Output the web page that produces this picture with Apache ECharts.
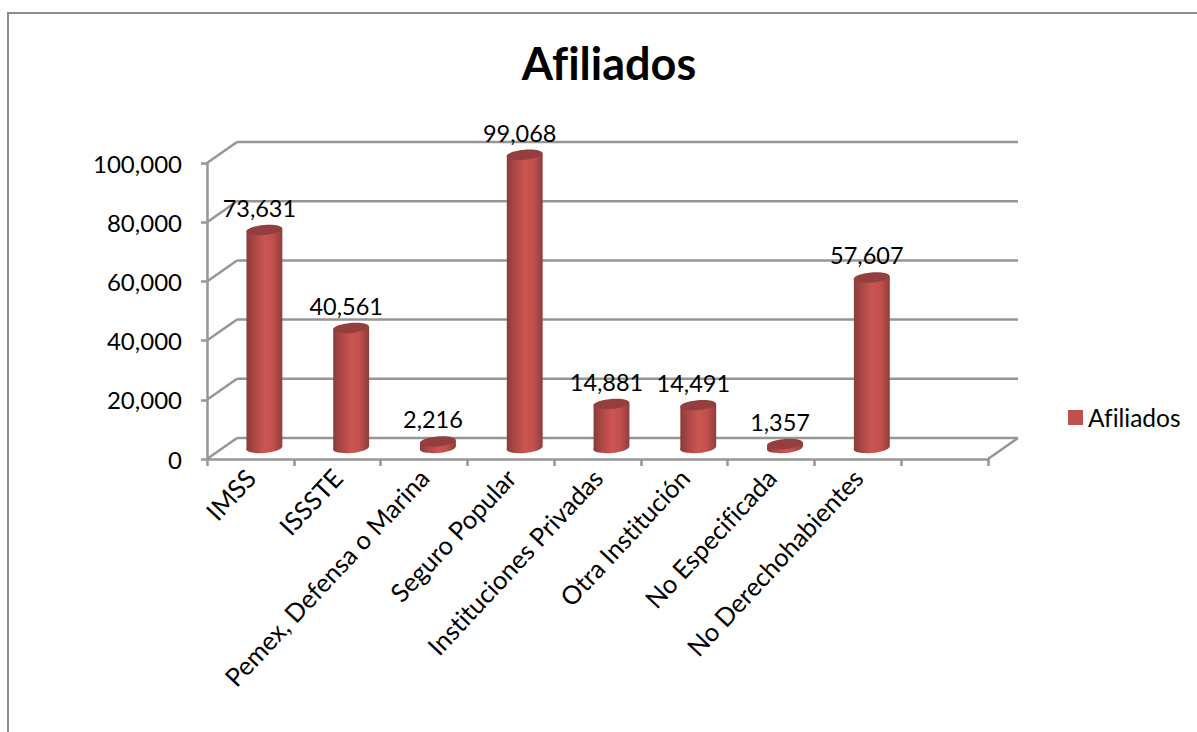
<!DOCTYPE html>
<html><head><meta charset="utf-8">
<style>html,body{margin:0;padding:0;background:#fff}#c{width:1197px;height:732px;font-variant-ligatures:none}#c text{font-variant-ligatures:none}</style>
<script src="https://cdn.jsdelivr.net/npm/echarts@6/dist/echarts.min.js"></script>
</head><body><div id="c"></div>
<script>
const categories = ['IMSS','ISSSTE','Pemex, Defensa o Marina','Seguro Popular','Instituciones Privadas','Otra Institución','No Especificada','No Derechohabientes',''];
const afiliados = [73631,40561,2216,99068,14881,14491,1357,57607];
const yTicks = [0,20000,40000,60000,80000,100000];
const seriesName = 'Afiliados';
const titleText = 'Afiliados';
const FONT = 'Lato, Carlito, sans-serif';
const GRAY = '#969696';
const DX = 30, DY = -21;          // wall depth
const CX = 14, CY = -11;          // cylinder offset into depth
const RX = 18, RY = 5, TILT = 5 * Math.PI / 180;  // cylinder ellipse

const fmt = v => v.toString().replace(/\B(?=(\d{3})+$)/g, ',');
const chart = echarts.init(document.getElementById('c'), null, {renderer:'svg'});

function renderWall(params, api){
  const cs = params.coordSys;
  const y = api.coord([0, api.value(1)])[1];
  const l = cs.x, r = cs.x + cs.width;
  const style = {stroke:GRAY, lineWidth:2.5, fill:null};
  const kids = [
    {type:'line', shape:{x1:l,y1:y,x2:l+DX,y2:y+DY}, style},
    {type:'line', shape:{x1:l+DX,y1:y+DY,x2:r+DX,y2:y+DY}, style}
  ];
  if (api.value(1) === 0) kids.push({type:'line', shape:{x1:r,y1:y,x2:r+DX,y2:y+DY}, style});
  return {type:'group', children:kids, silent:true};
}

function renderCylinder(params, api){
  const top = api.coord([api.value(0), api.value(1)]);
  const base = api.coord([api.value(0), 0]);
  const cx = top[0] + CX, ty = top[1] + CY, by = base[1] + CY;
  const c = Math.cos(TILT), n = Math.sin(TILT);
  const ex = Math.sqrt(RX*RX*c*c + RY*RY*n*n);
  const s = (RX*RX - RY*RY) * n * c / ex;
  const lx = cx - ex, rx = cx + ex;
  const grad = new echarts.graphic.LinearGradient(lx,0,rx,0,[
    {offset:0,color:'#8a3b39'},{offset:0.18,color:'#a54543'},{offset:0.5,color:'#cb5552'},
    {offset:0.72,color:'#c4514e'},{offset:0.92,color:'#a04341'},{offset:1,color:'#8e3d3b'}
  ], true);
  const ell = (yy, fill) => ({type:'ellipse', shape:{cx:cx, cy:yy, rx:RX, ry:RY},
    originX:cx, originY:yy, rotation:TILT, style:{fill}});
  return {type:'group', children:[
    ell(by, grad),
    {type:'polygon', shape:{points:[[lx,ty+s],[lx,by+s],[rx,by-s],[rx,ty-s]]}, style:{fill:grad}},
    ell(ty, '#943f3d'),
    {type:'text', style:{text:fmt(api.value(1)), x:cx-5, y:ty-22, align:'center', verticalAlign:'middle',
      font:'23.5px '+FONT, fill:'#000'}, z2:10}
  ]};
}

chart.setOption({
  animation:false,
  backgroundColor:'#fff',
  title:{text:titleText, left:604, top:35, textAlign:'center',
    textStyle:{fontFamily:FONT, fontWeight:'bold', fontSize:45, color:'#000'}},
  legend:{data:[seriesName], left:1063, top:400, icon:'rect', itemWidth:15, itemHeight:15, itemGap:7,
    textStyle:{fontFamily:FONT, fontSize:24.5, color:'#000'}},
  grid:{left:207, top:163, width:781, height:296},
  xAxis:{type:'category', data:categories, boundaryGap:true,
    axisLine:{lineStyle:{color:GRAY,width:2.5}},
    axisTick:{show:true, alignWithLabel:false, length:7, lineStyle:{color:GRAY,width:2.5}},
    axisLabel:{interval:0, rotate:47, margin:14, fontFamily:FONT, fontSize:25.5, color:'#000'}},
  yAxis:{type:'value', min:0, max:100000, interval:20000,
    axisLine:{show:true, lineStyle:{color:GRAY,width:2.5}},
    axisTick:{show:true, length:6, lineStyle:{color:GRAY,width:2.5}},
    splitLine:{show:false},
    axisLabel:{margin:25, padding:[4,0,0,0], fontFamily:FONT, fontSize:24, color:'#000', formatter:fmt}},
  graphic:[
    {type:'line', shape:{x1:8,y1:13,x2:1197,y2:13}, style:{stroke:'#8c8c8c',lineWidth:2}},
    {type:'line', shape:{x1:8,y1:12,x2:8,y2:732}, style:{stroke:'#8c8c8c',lineWidth:2}}
  ],
  series:[
    {type:'custom', name:'wall', renderItem:renderWall, data:yTicks.map(v=>[0,v]), z:1, silent:true},
    {type:'custom', name:seriesName, renderItem:renderCylinder, itemStyle:{color:'#c0504d'},
     data:afiliados.map((v,i)=>[i,v]), z:3, encode:{x:0,y:1}}
  ]
});
</script></body></html>
